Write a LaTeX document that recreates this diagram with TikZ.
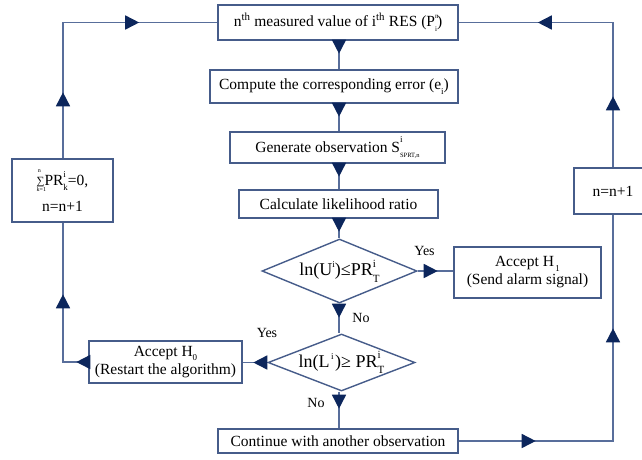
\documentclass[tikz,border=0pt]{standalone}
\usepackage{fontspec}
\setmainfont{Liberation Serif}
\usetikzlibrary{shapes.geometric,arrows.meta,decorations.markings}
\definecolor{lineblue}{RGB}{88,110,155}
\definecolor{boxblue}{RGB}{70,92,138}
\definecolor{navy}{RGB}{12,38,92}
\newcommand{\scrA}{\fontsize{9}{10}\selectfont}
\newcommand{\scrB}{\fontsize{11}{12}\selectfont}
\newcommand{\scrC}{\fontsize{7}{7}\selectfont}
\newcommand{\ssub}[3]{\rlap{\raisebox{1.05ex}{#1#2}}\raisebox{-0.75ex}{#1#3}}
\begin{document}
\begin{tikzpicture}[x=1pt,y=-1pt,
  box/.style={draw=boxblue, line width=1.4pt, fill=white, rectangle, inner sep=0pt, font=\fontsize{15.5}{18}\selectfont, align=center},
  dia/.style={draw=boxblue, line width=1.4pt, fill=white, diamond, inner sep=0pt, font=\fontsize{18}{20}\selectfont},
  conn/.style={draw=lineblue, line width=1.6pt},
  arr/.style={postaction={decorate,decoration={markings,mark=at position #1 with {\arrow[navy]{Triangle[length=14pt,width=14pt]}}}}},
  lab/.style={font=\fontsize{14}{16}\selectfont, inner sep=0pt}]
\useasboundingbox (0,0) rectangle (642,459);
\clip (0,0) rectangle (642,459);
% main nodes
\node[box, minimum width=240, minimum height=35] (b1) at (338,22.5) {n\textsuperscript{th} measured value of i\textsuperscript{th} RES (P\rlap{\raisebox{1.1ex}{\scrC n}}\raisebox{-0.8ex}{\scrC i})};
\node[box, minimum width=248, minimum height=33] (b2) at (334,86.5) {Compute the corresponding error (e\raisebox{-0.6ex}{\scrA i})};
\node[box, minimum width=215, minimum height=31] (b3) at (337.5,147.5) {Generate observation S\rlap{\raisebox{1.4ex}{\scrA i}}\raisebox{-0.8ex}{\fontsize{6.5}{7}\selectfont SPRT,n}};
\node[box, minimum width=199, minimum height=28] (b4) at (338.5,204) {Calculate likelihood ratio};
\node[dia, aspect=2.4, minimum width=155, minimum height=64] (d1) at (339.5,271) {ln(U\raisebox{1ex}{\scrA i})≤PR\ssub{\scrB}{i}{T}};
\node[dia, aspect=2.6, minimum width=147, minimum height=57] (d2) at (341.5,362.5) {ln(L\raisebox{1ex}{\scrA\,i\,})≥ PR\ssub{\scrB}{i}{T}};
\node[box, minimum width=147, minimum height=51] (h1) at (527.5,272.5) {Accept H\raisebox{-0.6ex}{\scrA\,1}\\(Send alarm signal)};
\node[box, minimum width=153, minimum height=42] (h0) at (165.5,362) {Accept H\raisebox{-0.6ex}{\scrA 0}\\(Restart the algorithm)};
\node[box, minimum width=240, minimum height=24] (c) at (338,441) {Continue with another observation};
\coordinate (spine) at (339,0);
\coordinate (lc) at (63,0);
\coordinate (rc) at (613,0);
% spine connectors
\draw[conn, arr=13pt] (b1.south -| spine) -- (b2.north -| spine);
\draw[conn, arr=13pt] (b2.south -| spine) -- (b3.north -| spine);
\draw[conn, arr=13pt] (b3.south -| spine) -- (b4.north -| spine);
\draw[conn, arr=13pt] (b4.south -| spine) -- (d1.north -| spine);
\draw[conn, arr=14pt] (d1.south -| spine) -- (d2.north -| spine);
\draw[conn, arr=17pt] (d2.south -| spine) -- (c.north -| spine);
\draw[conn, arr=20pt] (d1.east) -- (h1.west |- d1.east);
\draw[conn, arr=14pt] (d2.west) -- (h0.east |- d2.west);
% loops
\draw[conn, arr=12pt, arr=93pt, arr=295pt, arr=441pt] (h0.west) -| (lc |- b1.west) -- (b1.west);
\draw[conn, arr=77pt, arr=267pt, arr=499pt, arr=648pt] (c.east) -| (rc |- b1.east) -- (b1.east);
% loop boxes
\node[box, minimum width=101, minimum height=63, font=\fontsize{15.5}{26}\selectfont] (lb) at (62.5,190.5) {\rlap{\raisebox{1.75ex}{\fontsize{6}{6}\selectfont\kern0.2em n}}\rlap{\raisebox{-0.9ex}{\fontsize{6}{6}\selectfont k=1}}\raisebox{0.1ex}{\fontsize{11}{12}\selectfont∑}PR\ssub{\scrA}{i}{k}=0,\\n=n+1};
\node[box, minimum width=78, minimum height=46] (rb) at (613,191) {n=n+1};
% labels
\node[lab] (y1) at (424.5,251) {Yes};
\node[lab] (n1) at (361,318) {No};
\node[lab] (y2) at (267,333) {Yes};
\node[lab] (n2) at (316,402.5) {No};
\end{tikzpicture}
\end{document}
